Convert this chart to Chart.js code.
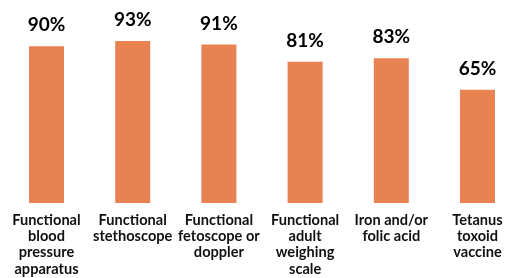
<!DOCTYPE html>
<html><head><meta charset="utf-8">
<script src="https://cdn.jsdelivr.net/npm/chart.js@4/dist/chart.umd.min.js"></script>
<style>html,body{margin:0;padding:0;background:#fff;overflow:hidden}#wrap{position:relative;width:524px;height:278px}</style>
</head><body><div id="wrap"><canvas id="c"></canvas></div>
<script>
const categories = [
  ["Functional","blood","pressure","apparatus"],
  ["Functional","stethoscope"],
  ["Functional","fetoscope or","doppler"],
  ["Functional","adult","weighing","scale"],
  ["Iron and/or","folic acid"],
  ["Tetanus","toxoid","vaccine"]
];
const values = [90, 93, 91, 81, 83, 65];
const valueLabels = ["90%","93%","91%","81%","83%","65%"];

const labelPlugin = {
  id: 'valueLabels',
  afterDatasetsDraw(chart) {
    const ctx = chart.ctx;
    const meta = chart.getDatasetMeta(0);
    ctx.save();
    ctx.font = 'bold 19px Lato, "DejaVu Sans", sans-serif';
    ctx.fillStyle = '#000';
    ctx.textAlign = 'center';
    ctx.textBaseline = 'middle';
    meta.data.forEach((bar, i) => {
      ctx.fillText(valueLabels[i], bar.x, bar.y - 21);
    });
    ctx.restore();
  }
};

new Chart(document.getElementById('c'), {
  type: 'bar',
  data: {
    labels: categories,
    datasets: [{ data: values, backgroundColor: '#E88250', barPercentage: 0.406, categoryPercentage: 1.0 }]
  },
  options: {
    responsive: true,
    maintainAspectRatio: false,
    animation: false,
    layout: { padding: { top: 28.7, left: 3.4, right: 3.4, bottom: 0 } },
    plugins: { legend: { display: false }, tooltip: { enabled: false } },
    scales: {
      y: { display: false, min: 0, max: 100 },
      x: {
        grid: { display: false },
        border: { display: false },
        afterFit(scale) { scale.height = 75; },
        ticks: {
          color: '#111',
          padding: 1,
          maxRotation: 0,
          autoSkip: false,
          font: { family: 'Lato, "DejaVu Sans", sans-serif', weight: 'bold', size: 14.6, lineHeight: '16.3px' }
        }
      }
    }
  },
  plugins: [labelPlugin]
});
</script></body></html>
